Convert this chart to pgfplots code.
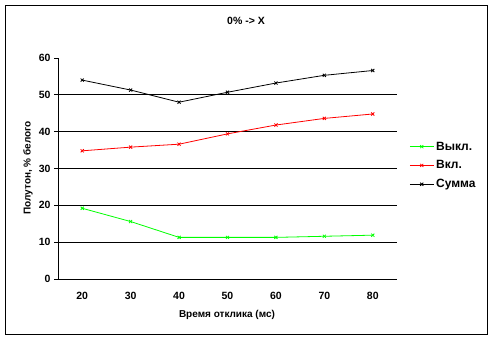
\documentclass[border=0pt]{standalone}
\usepackage{fontspec}
\setmainfont{Liberation Sans}
\usepackage{pgfplots}
\pgfplotsset{compat=1.18}
\definecolor{xlgreen}{RGB}{0,255,0}
\definecolor{xlred}{RGB}{255,0,0}
\begin{document}
\begin{tikzpicture}[x=1pt,y=1pt]
\path[fill=white] (0,0) rectangle (493,340);
\draw[line width=0.8pt] (5.5,6) rectangle (487.5,334.5);
\node[font=\bfseries\fontsize{10.5}{12}\selectfont] at (246,319) {0\% -> X};
\node[font=\bfseries\fontsize{10}{12}\selectfont, rotate=90] at (28,172) {Полутон, \% белого};
\node[font=\bfseries\fontsize{10}{12}\selectfont] at (227,25) {Время отклика (мс)};
\begin{axis}[
  at={(58pt,61pt)}, anchor=south west,
  scale only axis, width=339pt, height=221pt,
  xmin=-0.5, xmax=6.5, ymin=0, ymax=60,
  axis x line*=bottom, axis y line*=left,
  axis line style={line width=0.8pt, -},
  tick align=outside,
  major tick length=4pt, minor tick length=4pt,
  ytick={0,10,...,60},
  xtick={0,...,6}, xticklabels={20,30,40,50,60,70,80},
  xtick style={draw=none},
  minor xtick={-0.5,0.5,...,6.5},
  minor tick style={black, line width=0.8pt},
  ytick style={black, line width=0.8pt},
  extra y ticks={10,20,30,40,50},
  extra y tick labels={},
  extra y tick style={ymajorgrids=true, major tick length=0pt},
  grid style={black, line width=0.8pt},
  ticklabel style={font=\bfseries\fontsize{10.5}{12}\selectfont},
  /pgf/number format/assume math mode=true,
  xticklabel style={yshift=-6pt},
  legend style={at={(1.03,0.64)}, anchor=north west, draw=none, fill=none,
    font=\bfseries\fontsize{12}{14}\selectfont, row sep=5pt,
    inner xsep=2pt},
  legend cell align=left,
  legend image code/.code={
    \draw[mark repeat=2,mark phase=2] plot coordinates {(0pt,0pt) (12pt,0pt) (24pt,0pt)};
  },
]
\addplot[xlgreen, line width=0.8pt, mark=x, mark size=2.2pt, mark options={solid}] coordinates {
(0,19.2) (1,15.6) (2,11.3) (3,11.3) (4,11.3) (5,11.6) (6,11.9)};
\addlegendentry{Выкл.}
\addplot[xlred, line width=0.8pt, mark=x, mark size=2.2pt, mark options={solid}] coordinates {
(0,34.8) (1,35.8) (2,36.6) (3,39.4) (4,41.8) (5,43.6) (6,44.8)};
\addlegendentry{Вкл.}
\addplot[black, line width=0.8pt, mark=x, mark size=2.2pt, mark options={solid}] coordinates {
(0,54.0) (1,51.3) (2,48.0) (3,50.7) (4,53.2) (5,55.3) (6,56.6)};
\addlegendentry{Сумма}
\end{axis}
\end{tikzpicture}
\end{document}
